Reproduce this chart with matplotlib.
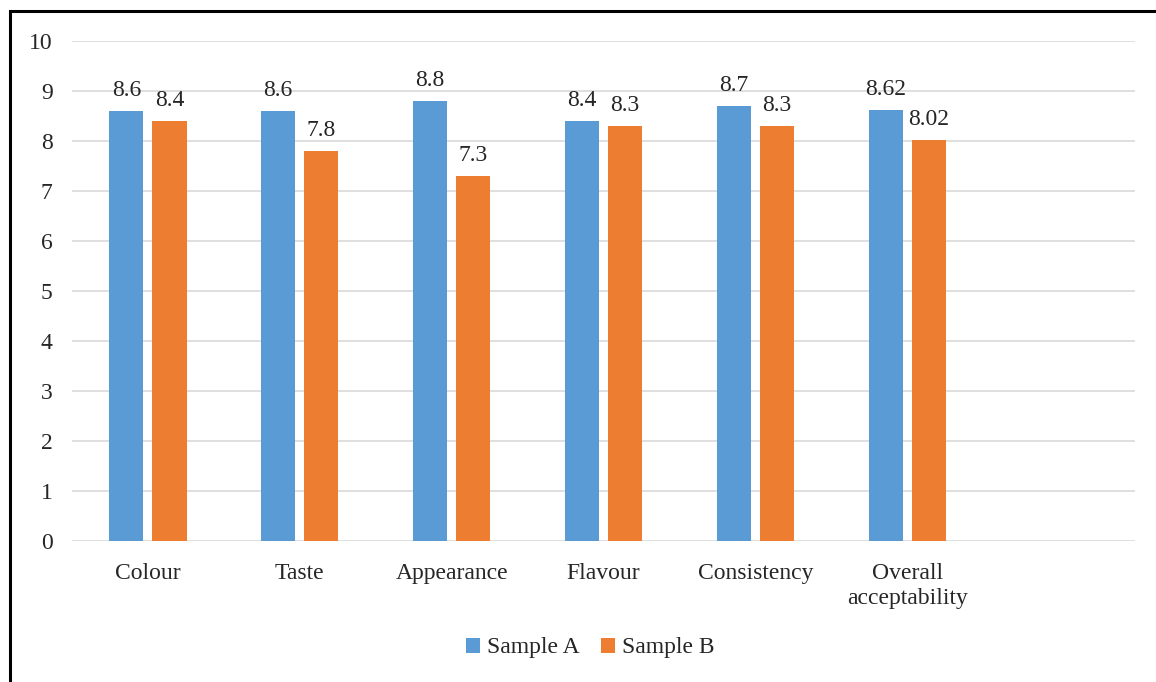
import matplotlib
matplotlib.use("Agg")
import matplotlib.pyplot as plt
import numpy as np
from matplotlib.patches import Rectangle

categories = ["Colour", "Taste", "Appearance", "Flavour", "Consistency", "Overall\nacceptability", ""]
sample_a = [8.6, 8.6, 8.8, 8.4, 8.7, 8.62, None]
sample_b = [8.4, 7.8, 7.3, 8.3, 8.3, 8.02, None]
labels_a = ["8.6", "8.6", "8.8", "8.4", "8.7", "8.62"]
labels_b = ["8.4", "7.8", "7.3", "8.3", "8.3", "8.02"]
series_names = ["Sample A", "Sample B"]
yticks = list(range(0, 11))

plt.rcParams['font.family'] = ['Liberation Serif', 'DejaVu Serif']
FS = 17

fig = plt.figure(figsize=(11.56, 6.82), dpi=100)
W, H = 1156, 682
ax = fig.add_axes([72 / W, 1 - 541 / H, (1135 - 72) / W, (541 - 41) / H])

n = len(categories)
x = np.arange(n)
bw = 0.224
gap = 0.06
off = (bw + gap) / 2
va = [v if v is not None else 0 for v in sample_a]
vb = [v if v is not None else 0 for v in sample_b]
ba = ax.bar(x[:6] - off, va[:6], width=bw, color="#5B9BD5", label=series_names[0], zorder=3)
bb = ax.bar(x[:6] + off, vb[:6], width=bw, color="#ED7D31", label=series_names[1], zorder=3)

for rect, lab in zip(ba, labels_a):
    ax.annotate(lab, (rect.get_x() + rect.get_width() / 2, rect.get_height()),
                xytext=(0, 7), textcoords="offset points", ha="center", va="bottom",
                fontsize=FS, color="#262626")
for rect, lab in zip(bb, labels_b):
    ax.annotate(lab, (rect.get_x() + rect.get_width() / 2, rect.get_height()),
                xytext=(0, 7), textcoords="offset points", ha="center", va="bottom",
                fontsize=FS, color="#262626")

ax.set_xlim(-0.5, n - 0.5)
ax.set_ylim(0, 10)
ax.set_yticks(yticks)
ax.set_yticklabels([str(t) for t in yticks], fontsize=FS, color="#262626")
ax.set_xticks(x)
ax.set_xticklabels(categories, fontsize=FS, color="#262626", linespacing=1.3)
ax.tick_params(axis="both", length=0)
ax.tick_params(axis="y", pad=14)
ax.tick_params(axis="x", pad=15.5)
ax.grid(axis="y", color="#D9D9D9", linewidth=1.2, zorder=0)
for s in ax.spines.values():
    s.set_visible(False)

leg = fig.legend(handles=[ba, bb], labels=series_names, loc="center",
                 bbox_to_anchor=(590 / W, 1 - 648 / H), ncol=2, frameon=False,
                 fontsize=FS, handlelength=0.6, handleheight=0.6,
                 handletextpad=0.3, columnspacing=0.9)
for t in leg.get_texts():
    t.set_color("#262626")

fig.patches.append(Rectangle((10 / W, -0.1), 1.2, 1 - 11 / H + 0.1,
                             transform=fig.transFigure, fill=False,
                             edgecolor="black", linewidth=2.2, zorder=10))

fig.savefig("out.png", dpi=100)
